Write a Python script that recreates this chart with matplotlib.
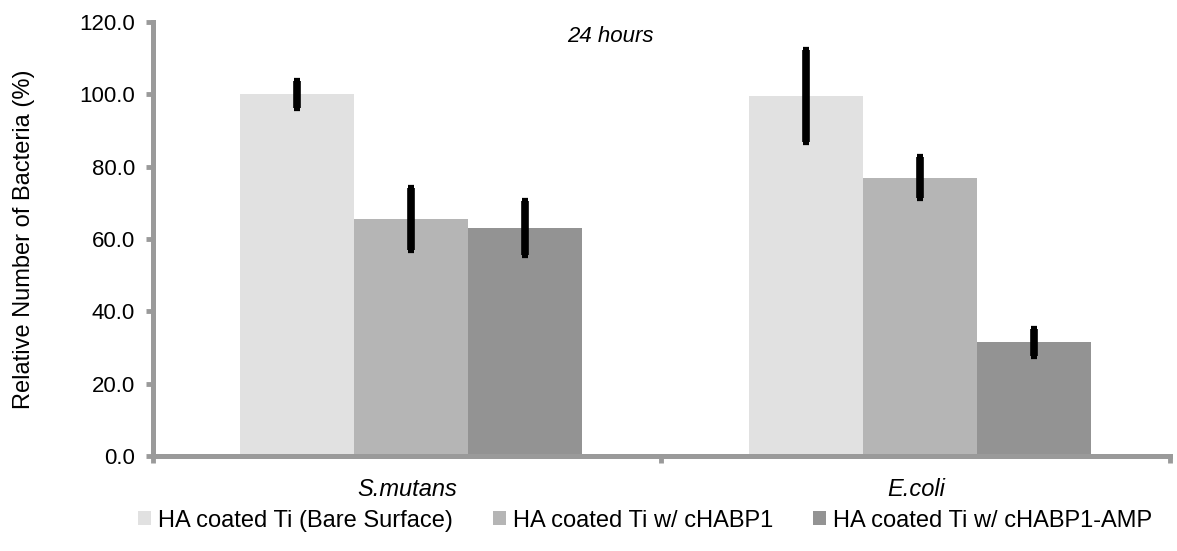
import matplotlib

matplotlib.use("Agg")
import matplotlib.pyplot as plt
import numpy as np


CATEGORIES = ["S.mutans", "E.coli"]
SERIES = ["HA coated Ti (Bare Surface)", "HA coated Ti w/ cHABP1",
          "HA coated Ti w/ cHABP1-AMP"]
VALUES = [
    [100.0, 99.5],
    [65.5, 77.0],
    [63.0, 31.5],
]
ERRORS = [
    [3.8, 12.7],
    [8.5, 5.7],
    [7.5, 3.7],
]
COLORS = ["#e1e1e1", "#b5b5b5", "#939393"]
YTICKS = [0, 20, 40, 60, 80, 100, 120]

plt.rcParams["font.family"] = ["Liberation Sans", "DejaVu Sans"]
AXIS_GRAY = "#9a9a9a"

fig = plt.figure(figsize=(11.77, 5.51), dpi=100)
ax = fig.add_axes([0.130, 0.172, 0.864, 0.788])

x = np.arange(len(CATEGORIES))
width = 0.224
for i, (vals, errs) in enumerate(zip(VALUES, ERRORS)):
    pos = x + (i - 1) * width + 0.008
    ax.bar(pos, vals, width=width, color=COLORS[i], label=SERIES[i], zorder=2)
    ax.errorbar(pos, vals, yerr=errs, fmt="none", ecolor="black",
                elinewidth=5.5, capsize=2.5, capthick=4.5, zorder=3)

ax.set_xlim(-0.5, 1.5)
ax.set_ylim(0, 120)
ax.set_yticks(YTICKS)
ax.set_yticklabels(["%.1f" % v for v in YTICKS], fontsize=16)
ax.set_xticks(x)
ax.set_xticklabels(CATEGORIES, fontsize=17, style="italic")
ax.set_xticks([-0.5, 0.5, 1.5], minor=True)
ax.tick_params(axis="x", which="major", length=0, pad=16)
ax.tick_params(axis="x", which="minor", length=5, width=3.5, color=AXIS_GRAY)
ax.tick_params(axis="y", length=5, width=3.5, color=AXIS_GRAY, pad=8)

for side in ["top", "right"]:
    ax.spines[side].set_visible(False)
for side in ["left", "bottom"]:
    ax.spines[side].set_color(AXIS_GRAY)
    ax.spines[side].set_linewidth(3.6)

ax.set_ylabel("Relative Number of Bacteria (%)", fontsize=17, labelpad=32)
ax.text(0.45, 0.99, "24 hours", transform=ax.transAxes, ha="center",
        va="top", fontsize=16, style="italic")

fig.legend(loc="center", bbox_to_anchor=(0.548, 0.055), ncol=3, frameon=False,
           fontsize=17, handlelength=0.55, handleheight=0.55, handletextpad=0.3,
           columnspacing=1.7)

fig.savefig("out.png", dpi=100)
